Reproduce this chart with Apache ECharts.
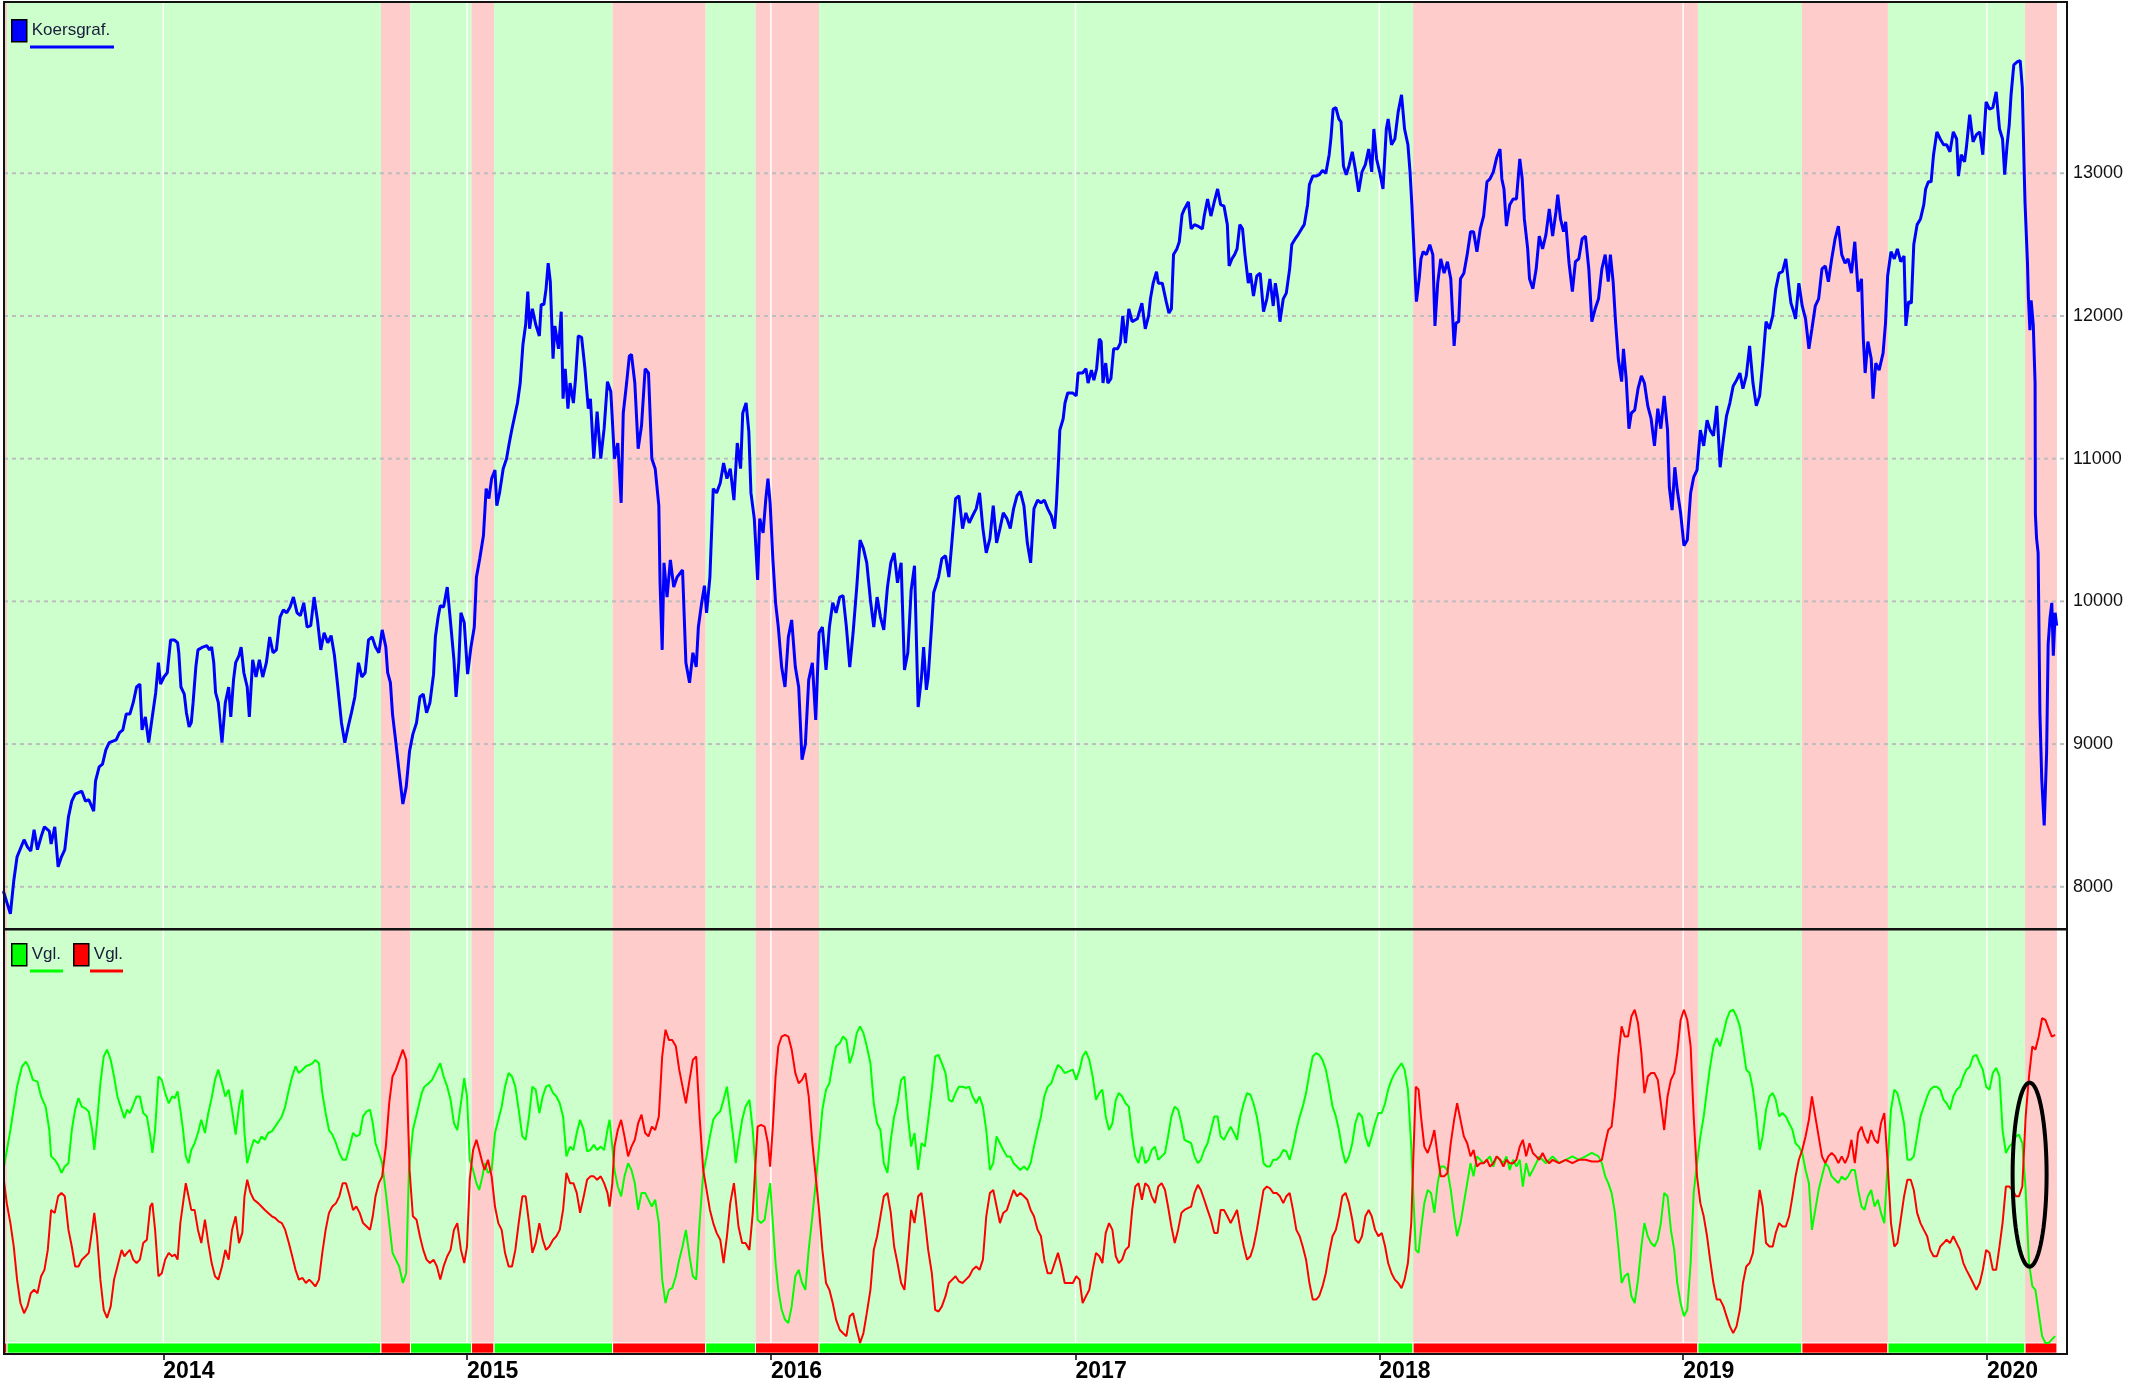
<!DOCTYPE html>
<html lang="nl">
<head>
<meta charset="UTF-8">
<title>Koersgraf.</title>
<style>
  html, body { margin: 0; padding: 0; background: #fff; }
  #container { width: 2134px; height: 1399px; }
</style>
<script src="https://cdn.jsdelivr.net/npm/echarts/dist/echarts.min.js"></script>
</head>
<body>
<div id="container"></div>
<script>
// x values are fractional years
var koers = [
[2013.475,7970],[2013.498,7810],[2013.509,8040],[2013.520,8210],[2013.543,8330],[2013.554,8280],[2013.565,8250],[2013.576,8400],[2013.587,8260],[2013.599,8350],[2013.610,8420],[2013.626,8390],[2013.632,8300],[2013.644,8420],[2013.655,8140],[2013.666,8210],[2013.677,8260],[2013.689,8490],[2013.700,8600],[2013.711,8650],[2013.733,8670],[2013.745,8600],[2013.756,8610],[2013.772,8530],[2013.778,8740],[2013.790,8840],[2013.801,8860],[2013.812,8960],[2013.823,9010],[2013.846,9030],[2013.857,9080],[2013.868,9100],[2013.879,9210],[2013.891,9210],[2013.902,9290],[2013.913,9400],[2013.924,9420],[2013.931,9100],[2013.942,9190],[2013.953,9010],[2013.962,9150],[2013.976,9360],[2013.985,9570],[2013.992,9420],[2014.003,9470],[2014.014,9500],[2014.025,9730],[2014.037,9730],[2014.048,9710],[2014.052,9640],[2014.059,9400],[2014.070,9350],[2014.077,9220],[2014.086,9120],[2014.093,9150],[2014.099,9290],[2014.108,9540],[2014.115,9660],[2014.131,9680],[2014.144,9690],[2014.153,9660],[2014.160,9680],[2014.167,9570],[2014.173,9360],[2014.182,9290],[2014.194,9010],[2014.205,9290],[2014.216,9400],[2014.223,9190],[2014.232,9450],[2014.239,9570],[2014.250,9620],[2014.257,9680],[2014.266,9500],[2014.277,9400],[2014.284,9190],[2014.295,9590],[2014.306,9470],[2014.317,9590],[2014.328,9470],[2014.340,9570],[2014.351,9750],[2014.362,9640],[2014.373,9660],[2014.385,9890],[2014.396,9940],[2014.407,9920],[2014.418,9960],[2014.429,10030],[2014.441,9920],[2014.452,9900],[2014.463,9990],[2014.474,9820],[2014.486,9830],[2014.497,10030],[2014.508,9870],[2014.519,9660],[2014.530,9780],[2014.542,9710],[2014.553,9760],[2014.564,9620],[2014.575,9400],[2014.587,9150],[2014.598,9010],[2014.609,9120],[2014.620,9220],[2014.631,9330],[2014.643,9570],[2014.654,9470],[2014.665,9500],[2014.676,9730],[2014.688,9750],[2014.699,9680],[2014.710,9640],[2014.721,9800],[2014.733,9680],[2014.739,9500],[2014.748,9430],[2014.755,9210],[2014.766,9010],[2014.777,8800],[2014.789,8580],[2014.800,8700],[2014.811,8950],[2014.822,9070],[2014.834,9150],[2014.845,9330],[2014.856,9350],[2014.867,9220],[2014.878,9290],[2014.890,9490],[2014.896,9750],[2014.905,9890],[2014.912,9970],[2014.923,9960],[2014.935,10100],[2014.946,9850],[2014.957,9590],[2014.964,9330],[2014.973,9570],[2014.980,9920],[2014.991,9850],[2015.002,9490],[2015.013,9680],[2015.024,9820],[2015.031,10170],[2015.042,10300],[2015.054,10460],[2015.063,10790],[2015.072,10720],[2015.081,10860],[2015.092,10920],[2015.098,10670],[2015.107,10760],[2015.119,10930],[2015.130,11000],[2015.139,11110],[2015.148,11210],[2015.159,11320],[2015.166,11390],[2015.175,11530],[2015.184,11800],[2015.193,11940],[2015.200,12170],[2015.206,11910],[2015.215,12050],[2015.226,11940],[2015.238,11860],[2015.244,12080],[2015.253,12080],[2015.260,12190],[2015.267,12370],[2015.274,12240],[2015.283,11700],[2015.289,11930],[2015.301,11770],[2015.310,12030],[2015.316,11420],[2015.323,11630],[2015.332,11350],[2015.339,11530],[2015.350,11390],[2015.357,11560],[2015.366,11860],[2015.377,11850],[2015.388,11630],[2015.399,11350],[2015.406,11420],[2015.417,11000],[2015.428,11330],[2015.440,11000],[2015.451,11210],[2015.462,11540],[2015.473,11470],[2015.485,11000],[2015.496,11110],[2015.507,10690],[2015.514,11320],[2015.525,11530],[2015.534,11720],[2015.541,11730],[2015.552,11530],[2015.563,11070],[2015.574,11230],[2015.586,11630],[2015.597,11600],[2015.608,11000],[2015.619,10930],[2015.631,10670],[2015.635,10130],[2015.642,9660],[2015.648,10270],[2015.658,10030],[2015.669,10290],[2015.680,10100],[2015.691,10170],[2015.709,10220],[2015.720,9570],[2015.732,9430],[2015.743,9640],[2015.754,9540],[2015.761,9820],[2015.772,9990],[2015.781,10110],[2015.788,9920],[2015.799,10170],[2015.810,10790],[2015.821,10760],[2015.833,10830],[2015.844,10970],[2015.855,10860],[2015.866,10930],[2015.878,10710],[2015.889,11110],[2015.900,10930],[2015.907,11320],[2015.918,11390],[2015.927,11190],[2015.934,10760],[2015.945,10580],[2015.956,10150],[2015.963,10580],[2015.974,10480],[2015.983,10720],[2015.990,10860],[2015.997,10690],[2016.006,10300],[2016.015,9990],[2016.024,9820],[2016.035,9540],[2016.046,9400],[2016.057,9750],[2016.068,9870],[2016.080,9540],[2016.091,9400],[2016.102,8890],[2016.113,9000],[2016.124,9450],[2016.136,9570],[2016.147,9170],[2016.158,9780],[2016.169,9820],[2016.181,9520],[2016.192,9820],[2016.203,9990],[2016.214,9920],[2016.226,10030],[2016.237,10040],[2016.248,9820],[2016.259,9540],[2016.270,9780],[2016.282,10100],[2016.293,10430],[2016.304,10370],[2016.315,10270],[2016.327,10010],[2016.338,9820],[2016.349,10030],[2016.360,9890],[2016.371,9800],[2016.383,10100],[2016.394,10270],[2016.405,10340],[2016.416,10130],[2016.428,10270],[2016.439,9520],[2016.450,9640],[2016.461,10080],[2016.472,10250],[2016.484,9260],[2016.495,9470],[2016.502,9680],[2016.511,9380],[2016.517,9470],[2016.529,9850],[2016.535,10060],[2016.551,10170],[2016.562,10300],[2016.574,10320],[2016.585,10170],[2016.596,10440],[2016.607,10720],[2016.618,10740],[2016.630,10510],[2016.641,10620],[2016.652,10550],[2016.663,10600],[2016.675,10650],[2016.686,10760],[2016.697,10510],[2016.708,10340],[2016.720,10440],[2016.731,10670],[2016.742,10410],[2016.753,10510],[2016.764,10620],[2016.776,10580],[2016.787,10510],[2016.798,10650],[2016.809,10740],[2016.820,10770],[2016.832,10670],[2016.843,10410],[2016.854,10270],[2016.865,10650],[2016.877,10710],[2016.888,10690],[2016.899,10710],[2016.910,10650],[2016.922,10600],[2016.933,10510],
[2016.939,10690],[2016.946,11000],[2016.950,11200],[2016.961,11280],[2016.967,11390],[2016.976,11460],[2016.993,11460],[2017.004,11440],[2017.010,11600],[2017.025,11600],[2017.036,11630],[2017.043,11530],[2017.054,11620],[2017.062,11550],[2017.071,11630],[2017.080,11840],[2017.086,11820],[2017.092,11530],[2017.101,11670],[2017.108,11530],[2017.118,11560],[2017.127,11770],[2017.140,11770],[2017.149,11810],[2017.157,12000],[2017.166,11810],[2017.177,12050],[2017.188,11960],[2017.205,11980],[2017.220,12090],[2017.231,11910],[2017.242,12000],[2017.248,12120],[2017.257,12230],[2017.268,12310],[2017.274,12230],[2017.287,12230],[2017.300,12100],[2017.309,12020],[2017.317,12050],[2017.324,12430],[2017.335,12470],[2017.343,12520],[2017.352,12710],[2017.360,12750],[2017.373,12800],[2017.382,12610],[2017.393,12640],[2017.404,12630],[2017.419,12610],[2017.425,12700],[2017.436,12820],[2017.447,12700],[2017.458,12800],[2017.469,12890],[2017.479,12780],[2017.490,12770],[2017.501,12640],[2017.507,12350],[2017.516,12400],[2017.525,12430],[2017.533,12470],[2017.542,12640],[2017.551,12610],[2017.559,12430],[2017.570,12230],[2017.577,12300],[2017.587,12140],[2017.598,12280],[2017.609,12300],[2017.620,12030],[2017.631,12120],[2017.641,12260],[2017.652,12070],[2017.659,12230],[2017.667,12120],[2017.674,11960],[2017.685,12120],[2017.695,12160],[2017.706,12330],[2017.713,12500],[2017.724,12540],[2017.734,12570],[2017.745,12610],[2017.754,12640],[2017.765,12780],[2017.771,12920],[2017.782,12980],[2017.793,12980],[2017.804,12990],[2017.814,13020],[2017.825,13000],[2017.836,13130],[2017.842,13250],[2017.849,13450],[2017.858,13460],[2017.868,13380],[2017.875,13360],[2017.883,13050],[2017.892,12990],[2017.901,13050],[2017.912,13150],[2017.922,13030],[2017.933,12870],[2017.944,13010],[2017.955,13060],[2017.966,13170],[2017.976,13010],[2017.983,13310],[2017.992,13100],[2018.002,13010],[2018.013,12890],[2018.024,13310],[2018.030,13380],[2018.041,13200],[2018.052,13240],[2018.063,13430],[2018.074,13550],[2018.084,13310],[2018.095,13200],[2018.102,13010],[2018.108,12780],[2018.117,12370],[2018.123,12100],[2018.132,12260],[2018.138,12400],[2018.145,12450],[2018.156,12430],[2018.167,12500],[2018.177,12430],[2018.184,11930],[2018.193,12230],[2018.203,12400],[2018.214,12300],[2018.225,12380],[2018.236,12260],[2018.247,11790],[2018.253,11950],[2018.262,11960],[2018.268,12260],[2018.279,12300],[2018.290,12430],[2018.301,12590],[2018.311,12590],[2018.322,12450],[2018.333,12610],[2018.344,12700],[2018.355,12940],[2018.365,12960],[2018.376,13010],[2018.387,13110],[2018.398,13170],[2018.404,12960],[2018.411,12890],[2018.419,12630],[2018.430,12780],[2018.441,12820],[2018.452,12820],[2018.463,13100],[2018.471,12960],[2018.478,12680],[2018.489,12470],[2018.495,12260],[2018.506,12190],[2018.517,12330],[2018.527,12560],[2018.538,12470],[2018.549,12570],[2018.560,12750],[2018.571,12560],[2018.582,12730],[2018.588,12850],[2018.597,12680],[2018.607,12590],[2018.614,12660],[2018.625,12370],[2018.636,12170],[2018.646,12380],[2018.657,12400],[2018.668,12540],[2018.679,12560],[2018.690,12330],[2018.700,11960],[2018.711,12050],[2018.722,12120],[2018.733,12330],[2018.744,12430],[2018.754,12240],[2018.761,12430],[2018.770,12240],[2018.778,11960],[2018.787,11700],[2018.798,11540],[2018.804,11770],[2018.813,11560],[2018.822,11210],[2018.830,11320],[2018.841,11340],[2018.852,11490],[2018.863,11580],[2018.873,11530],[2018.884,11370],[2018.895,11280],[2018.906,11090],[2018.917,11350],[2018.927,11210],[2018.938,11440],[2018.949,11200],[2018.955,10800],[2018.964,10640],[2018.973,10940],[2018.981,10780],[2018.992,10620],[2019.003,10390],[2019.014,10430],[2019.025,10760],[2019.035,10870],[2019.046,10920],[2019.057,11200],[2019.068,11090],[2019.079,11270],[2019.089,11200],[2019.100,11160],[2019.111,11370],[2019.122,10940],[2019.133,11140],[2019.143,11300],[2019.154,11390],[2019.165,11510],[2019.176,11550],[2019.187,11600],[2019.197,11490],[2019.208,11580],[2019.219,11790],[2019.230,11530],[2019.241,11370],[2019.252,11440],[2019.262,11670],[2019.273,11960],[2019.284,11910],[2019.295,12000],[2019.305,12190],[2019.316,12300],[2019.327,12310],[2019.338,12400],[2019.349,12190],[2019.355,12090],[2019.364,12030],[2019.370,11980],[2019.381,12230],[2019.392,12070],[2019.403,11980],[2019.414,11770],[2019.424,11910],[2019.435,12070],[2019.446,12120],[2019.457,12330],[2019.468,12350],[2019.478,12240],[2019.489,12400],[2019.500,12540],[2019.511,12630],[2019.522,12430],[2019.533,12370],[2019.543,12400],[2019.554,12300],[2019.565,12520],[2019.576,12170],[2019.587,12260],[2019.593,11840],[2019.599,11600],[2019.608,11820],[2019.619,11700],[2019.625,11420],[2019.634,11670],[2019.645,11620],[2019.658,11740],[2019.666,11950],[2019.673,12280],[2019.684,12450],[2019.695,12400],[2019.705,12470],[2019.716,12380],[2019.727,12420],[2019.733,11930],[2019.742,12100],[2019.751,12090],[2019.759,12500],[2019.770,12640],[2019.781,12680],[2019.792,12780],[2019.798,12890],[2019.807,12940],[2019.816,12940],[2019.824,13130],[2019.835,13290],[2019.846,13240],[2019.857,13200],[2019.867,13200],[2019.878,13150],[2019.889,13290],[2019.900,13240],[2019.906,12980],[2019.915,13130],[2019.926,13080],[2019.932,13180],[2019.943,13410],[2019.954,13220],[2019.965,13270],[2019.976,13290],[2019.986,13130],[2019.997,13500],[2020.008,13450],[2020.019,13460],[2020.030,13570],[2020.041,13310],[2020.051,13240],[2020.058,12990],[2020.066,13200],[2020.073,13340],[2020.079,13550],[2020.088,13760],[2020.099,13780],[2020.109,13790],[2020.116,13600],
[2020.122,13030],[2020.125,12790],[2020.133,12370],[2020.136,12130],[2020.141,11900],[2020.145,12110],[2020.152,11940],[2020.158,11530],[2020.159,10610],[2020.163,10440],[2020.168,10340],[2020.174,9210],[2020.180,8750],[2020.188,8430],[2020.196,8940],[2020.201,9700],[2020.207,9880],[2020.213,9990],[2020.218,9620],[2020.224,9920],[2020.229,9830]
];

var vglGroen = [
[2013.475,43.3],[2013.498,52.7],[2013.520,62.9],[2013.536,67.6],[2013.549,68.8],[2013.558,67.6],[2013.572,64.5],[2013.587,64.1],[2013.599,60.6],[2013.614,58.2],[2013.626,52.7],[2013.632,46.5],[2013.644,45.7],[2013.655,44.5],[2013.666,42.6],[2013.677,44.1],[2013.689,44.9],[2013.700,52.7],[2013.711,57.5],[2013.722,60.2],[2013.733,58.2],[2013.745,57.8],[2013.756,57.0],[2013.767,52.7],[2013.774,48.0],[2013.783,54.3],[2013.794,63.7],[2013.805,70.0],[2013.816,71.6],[2013.828,69.2],[2013.839,65.3],[2013.850,60.6],[2013.864,57.5],[2013.873,55.5],[2013.882,57.5],[2013.891,56.7],[2013.902,58.6],[2013.913,60.6],[2013.924,60.6],[2013.935,56.7],[2013.947,55.9],[2013.958,51.2],[2013.965,47.3],[2013.974,52.7],[2013.985,65.3],[2013.996,64.5],[2014.007,61.4],[2014.019,59.0],[2014.030,60.6],[2014.039,60.2],[2014.048,61.8],[2014.057,57.5],[2014.066,52.7],[2014.075,46.5],[2014.084,44.9],[2014.093,48.0],[2014.104,49.6],[2014.115,52.0],[2014.126,55.1],[2014.138,52.0],[2014.149,56.7],[2014.160,60.2],[2014.171,64.5],[2014.182,66.9],[2014.194,63.7],[2014.205,60.6],[2014.216,62.2],[2014.227,57.5],[2014.239,51.6],[2014.250,58.2],[2014.261,62.2],[2014.268,52.0],[2014.277,44.9],[2014.288,48.0],[2014.299,50.4],[2014.313,49.6],[2014.324,51.2],[2014.335,50.4],[2014.346,52.0],[2014.358,52.4],[2014.369,53.5],[2014.380,54.7],[2014.391,55.9],[2014.402,58.2],[2014.414,62.2],[2014.425,65.3],[2014.436,67.7],[2014.447,66.1],[2014.459,66.9],[2014.470,67.7],[2014.481,68.0],[2014.492,68.4],[2014.501,69.2],[2014.513,68.4],[2014.524,61.4],[2014.535,56.7],[2014.546,52.7],[2014.557,51.6],[2014.569,49.6],[2014.580,47.3],[2014.591,45.7],[2014.602,45.7],[2014.614,48.8],[2014.625,52.0],[2014.636,51.2],[2014.647,51.6],[2014.658,55.9],[2014.670,57.1],[2014.681,57.5],[2014.690,54.3],[2014.699,49.6],[2014.710,47.3],[2014.721,44.9],[2014.733,37.9],[2014.744,30.8],[2014.755,23.8],[2014.766,22.2],[2014.777,20.6],[2014.789,16.7],[2014.800,19.0],[2014.809,43.3],[2014.822,52.7],[2014.838,57.5],[2014.851,61.4],[2014.860,62.9],[2014.874,63.7],[2014.885,64.5],[2014.896,66.1],[2014.912,68.4],[2014.923,65.3],[2014.935,62.9],[2014.946,59.8],[2014.957,54.3],[2014.968,52.7],[2014.980,59.0],[2014.991,64.9],[2015.000,60.6],[2015.009,45.7],[2015.020,43.3],[2015.031,40.2],[2015.040,38.6],[2015.051,41.8],[2015.058,44.9],[2015.069,42.6],[2015.081,43.3],[2015.092,52.0],[2015.103,55.1],[2015.114,58.2],[2015.125,62.9],[2015.137,66.1],[2015.148,65.3],[2015.159,62.9],[2015.170,57.5],[2015.182,51.2],[2015.193,50.4],[2015.204,55.9],[2015.215,62.9],[2015.226,62.2],[2015.238,56.7],[2015.249,60.6],[2015.260,62.9],[2015.271,63.3],[2015.283,61.4],[2015.294,60.6],[2015.305,59.0],[2015.316,55.9],[2015.327,46.5],[2015.339,48.8],[2015.350,48.0],[2015.361,52.0],[2015.372,55.1],[2015.384,52.7],[2015.395,47.7],[2015.406,48.0],[2015.417,49.2],[2015.428,48.0],[2015.440,48.8],[2015.451,48.0],[2015.462,52.7],[2015.469,55.1],[2015.478,48.8],[2015.485,43.3],[2015.496,39.4],[2015.507,37.1],[2015.518,41.8],[2015.530,44.9],[2015.541,43.3],[2015.552,40.2],[2015.563,33.9],[2015.574,37.9],[2015.586,37.9],[2015.597,36.3],[2015.608,34.7],[2015.619,36.3],[2015.631,30.8],[2015.642,17.5],[2015.653,12.0],[2015.664,15.1],[2015.675,15.5],[2015.687,18.3],[2015.698,22.2],[2015.709,25.3],[2015.720,29.2],[2015.732,23.0],[2015.743,18.3],[2015.754,17.5],[2015.765,30.8],[2015.777,42.6],[2015.788,46.5],[2015.799,51.2],[2015.810,55.1],[2015.821,56.3],[2015.833,57.1],[2015.844,59.8],[2015.855,62.9],[2015.866,56.7],[2015.878,49.6],[2015.884,44.9],[2015.893,49.6],[2015.905,55.1],[2015.916,58.2],[2015.929,59.8],[2015.940,52.7],[2015.949,43.3],[2015.956,31.6],[2015.967,30.8],[2015.979,31.6],[2015.990,37.1],[2015.997,40.2],[2016.006,30.8],[2016.015,21.4],[2016.024,15.1],[2016.035,10.4],[2016.046,8.1],[2016.057,7.3],[2016.068,11.2],[2016.080,18.3],[2016.091,19.8],[2016.102,16.7],[2016.113,15.1],[2016.124,24.5],[2016.136,32.4],[2016.147,40.2],[2016.158,48.8],[2016.169,57.5],[2016.181,62.2],[2016.192,63.7],[2016.203,68.4],[2016.214,72.4],[2016.226,73.1],[2016.237,74.7],[2016.248,73.9],[2016.259,68.4],[2016.270,70.8],[2016.282,75.5],[2016.293,77.1],[2016.304,75.5],[2016.315,72.4],[2016.327,68.4],[2016.338,59.0],[2016.349,54.3],[2016.360,52.7],[2016.371,44.9],[2016.383,42.6],[2016.394,50.4],[2016.405,55.9],[2016.416,59.0],[2016.428,64.5],[2016.439,65.3],[2016.450,55.9],[2016.461,48.8],[2016.472,52.0],[2016.484,43.3],[2016.495,49.6],[2016.506,48.8],[2016.517,55.1],[2016.529,62.2],[2016.540,70.0],[2016.551,70.4],[2016.562,68.4],[2016.574,66.1],[2016.585,59.8],[2016.596,59.4],[2016.607,61.4],[2016.618,62.9],[2016.630,62.9],[2016.641,62.6],[2016.652,62.9],[2016.663,60.6],[2016.675,59.0],[2016.686,60.6],[2016.697,58.2],[2016.708,52.7],[2016.720,43.3],[2016.731,44.9],[2016.742,51.2],[2016.753,49.6],[2016.764,48.0],[2016.776,46.5],[2016.787,46.5],[2016.798,44.9],[2016.809,44.1],[2016.820,43.3],[2016.832,44.1],[2016.843,43.3],[2016.854,44.9],[2016.865,48.8],[2016.877,52.7],[2016.888,55.9],[2016.899,60.6],[2016.910,62.9],[2016.922,63.7],[2016.933,66.1],[2016.944,68.0],[2016.955,67.3],[2016.966,66.1],
[2016.993,66.9],[2017.004,64.5],[2017.015,66.9],[2017.025,70.0],[2017.036,71.2],[2017.047,69.2],[2017.058,65.3],[2017.069,59.8],[2017.080,61.4],[2017.090,62.2],[2017.101,55.9],[2017.112,52.7],[2017.123,54.3],[2017.134,59.8],[2017.144,61.4],[2017.155,60.6],[2017.166,59.0],[2017.177,58.2],[2017.188,51.2],[2017.198,46.5],[2017.209,44.9],[2017.220,48.8],[2017.231,44.9],[2017.242,45.7],[2017.252,48.0],[2017.263,48.8],[2017.274,45.7],[2017.285,46.5],[2017.296,47.3],[2017.306,51.2],[2017.317,55.9],[2017.328,58.2],[2017.339,57.5],[2017.350,54.3],[2017.360,50.4],[2017.371,50.0],[2017.382,49.6],[2017.393,46.5],[2017.404,44.9],[2017.414,45.7],[2017.425,48.0],[2017.436,49.6],[2017.447,52.7],[2017.458,55.9],[2017.469,55.9],[2017.479,51.2],[2017.490,50.4],[2017.501,52.0],[2017.512,53.5],[2017.523,52.0],[2017.533,50.4],[2017.544,55.9],[2017.555,59.0],[2017.566,61.4],[2017.577,61.0],[2017.587,59.0],[2017.598,55.9],[2017.609,51.2],[2017.620,44.9],[2017.631,44.1],[2017.641,44.1],[2017.652,45.7],[2017.663,45.7],[2017.674,46.5],[2017.685,48.0],[2017.695,47.7],[2017.706,45.7],[2017.717,48.8],[2017.728,52.7],[2017.739,55.9],[2017.749,58.2],[2017.760,61.4],[2017.771,66.1],[2017.782,70.0],[2017.793,70.8],[2017.803,70.4],[2017.814,69.2],[2017.825,66.9],[2017.836,62.9],[2017.847,58.2],[2017.858,55.9],[2017.868,52.7],[2017.879,48.0],[2017.890,44.9],[2017.901,46.5],[2017.912,49.6],[2017.922,54.3],[2017.933,56.7],[2017.944,55.9],[2017.955,51.2],[2017.966,48.8],[2017.976,51.2],[2017.987,54.3],[2017.998,56.7],[2018.009,56.7],[2018.020,59.0],[2018.030,62.2],[2018.041,64.5],[2018.052,66.1],[2018.063,67.3],[2018.074,68.4],[2018.084,66.9],[2018.095,62.2],[2018.106,48.8],[2018.113,37.1],[2018.121,24.5],[2018.130,23.8],[2018.138,29.2],[2018.149,35.5],[2018.160,38.6],[2018.171,37.9],[2018.182,33.2],[2018.193,40.2],[2018.203,44.1],[2018.214,44.1],[2018.225,43.3],[2018.236,38.6],[2018.247,32.4],[2018.257,27.7],[2018.268,30.8],[2018.279,35.5],[2018.290,40.2],[2018.301,44.9],[2018.311,41.8],[2018.322,46.5],[2018.333,45.7],[2018.344,44.9],[2018.355,45.7],[2018.365,46.5],[2018.376,44.1],[2018.387,46.5],[2018.398,45.7],[2018.409,44.9],[2018.419,46.5],[2018.430,43.3],[2018.441,45.7],[2018.452,44.1],[2018.463,45.7],[2018.473,39.4],[2018.484,44.9],[2018.495,41.8],[2018.506,43.3],[2018.517,44.9],[2018.527,46.5],[2018.538,45.7],[2018.549,44.9],[2018.560,45.7],[2018.571,46.5],[2018.582,45.7],[2018.592,44.9],[2018.614,45.7],[2018.636,46.5],[2018.657,45.7],[2018.679,46.5],[2018.700,47.3],[2018.722,46.5],[2018.733,44.9],[2018.744,41.8],[2018.754,40.2],[2018.765,37.9],[2018.776,33.2],[2018.787,25.3],[2018.798,16.7],[2018.808,18.3],[2018.819,19.0],[2018.830,13.6],[2018.841,12.0],[2018.852,17.5],[2018.863,25.3],[2018.873,30.8],[2018.884,27.7],[2018.895,26.1],[2018.906,25.3],[2018.917,26.9],[2018.927,30.8],[2018.938,37.9],[2018.949,37.1],[2018.960,29.2],[2018.971,24.5],[2018.981,16.7],[2018.992,12.0],[2019.003,8.9],[2019.014,10.4],[2019.025,21.4],[2019.035,37.9],[2019.046,44.9],[2019.057,51.2],[2019.068,55.9],[2019.079,62.2],[2019.089,67.6],[2019.100,72.4],[2019.111,74.3],[2019.122,72.4],[2019.133,75.5],[2019.143,78.6],[2019.154,80.6],[2019.165,81.0],[2019.176,79.4],[2019.187,77.1],[2019.197,72.4],[2019.208,66.9],[2019.219,66.1],[2019.230,62.2],[2019.241,55.9],[2019.252,48.0],[2019.262,51.2],[2019.273,57.5],[2019.284,60.6],[2019.295,61.4],[2019.305,59.8],[2019.316,55.9],[2019.327,56.7],[2019.338,55.9],[2019.349,54.3],[2019.360,52.7],[2019.370,49.6],[2019.381,48.8],[2019.392,47.3],[2019.403,43.3],[2019.414,40.2],[2019.424,29.2],[2019.435,33.9],[2019.446,38.6],[2019.457,41.8],[2019.468,44.9],[2019.478,44.1],[2019.489,41.8],[2019.500,41.0],[2019.511,40.2],[2019.522,41.8],[2019.533,41.0],[2019.543,41.8],[2019.554,43.3],[2019.565,43.3],[2019.576,38.6],[2019.587,34.7],[2019.597,33.9],[2019.608,37.1],[2019.619,38.6],[2019.630,34.7],[2019.641,36.3],[2019.651,33.2],[2019.662,30.8],[2019.673,44.9],[2019.684,57.5],[2019.695,62.2],[2019.705,61.4],[2019.716,58.2],[2019.727,54.3],[2019.738,45.7],[2019.749,45.7],[2019.759,46.5],[2019.770,51.2],[2019.781,55.9],[2019.792,58.2],[2019.803,60.6],[2019.813,62.2],[2019.824,62.9],[2019.835,62.9],[2019.846,62.2],[2019.857,59.8],[2019.867,59.0],[2019.878,57.5],[2019.889,60.6],[2019.900,62.2],[2019.911,62.9],[2019.922,65.3],[2019.932,66.9],[2019.943,67.6],[2019.954,70.0],[2019.965,70.4],[2019.976,68.4],[2019.986,66.9],[2019.997,62.9],[2020.008,62.2],[2020.019,66.1],[2020.030,67.3],[2020.041,65.3],[2020.051,52.7],[2020.062,47.3],[2020.073,48.8],[2020.084,49.6],[2020.095,51.2],[2020.105,51.6],[2020.116,49.6],[2020.127,38.6],[2020.138,21.4],[2020.149,15.9],[2020.159,15.1],[2020.170,9.6],[2020.181,4.2],[2020.192,2.6],[2020.203,2.6],[2020.213,3.4],[2020.224,4.2]
];

var vglRood = [
[2013.475,41.8],[2013.486,35.5],[2013.498,30.8],[2013.509,25.3],[2013.520,17.5],[2013.531,12.0],[2013.543,9.6],[2013.554,11.2],[2013.565,14.3],[2013.576,15.1],[2013.587,14.3],[2013.599,18.3],[2013.610,19.8],[2013.621,24.5],[2013.632,33.9],[2013.644,33.2],[2013.655,37.1],[2013.666,37.9],[2013.677,37.1],[2013.689,29.2],[2013.700,25.3],[2013.711,20.6],[2013.722,20.6],[2013.733,22.2],[2013.745,23.0],[2013.756,23.8],[2013.767,29.2],[2013.774,33.2],[2013.783,27.7],[2013.794,17.5],[2013.805,10.4],[2013.816,8.5],[2013.828,11.2],[2013.839,17.5],[2013.850,20.6],[2013.864,24.5],[2013.873,23.0],[2013.882,23.8],[2013.891,24.5],[2013.902,22.2],[2013.913,21.4],[2013.924,22.2],[2013.935,26.1],[2013.947,26.9],[2013.958,34.7],[2013.965,35.5],[2013.974,29.2],[2013.985,18.3],[2013.996,19.0],[2014.007,22.2],[2014.019,23.8],[2014.030,23.0],[2014.039,23.4],[2014.048,22.2],[2014.057,30.8],[2014.066,35.5],[2014.075,40.2],[2014.084,37.1],[2014.093,33.9],[2014.104,33.9],[2014.115,29.2],[2014.126,26.1],[2014.138,31.6],[2014.149,26.1],[2014.160,21.4],[2014.171,18.3],[2014.182,17.5],[2014.194,20.6],[2014.205,24.5],[2014.216,22.2],[2014.227,29.2],[2014.239,32.4],[2014.250,26.1],[2014.261,28.5],[2014.268,37.1],[2014.277,41.0],[2014.288,37.9],[2014.299,36.3],[2014.313,35.5],[2014.324,34.7],[2014.335,33.9],[2014.346,33.2],[2014.358,32.4],[2014.369,32.0],[2014.380,31.2],[2014.391,30.8],[2014.402,29.2],[2014.414,26.1],[2014.425,23.0],[2014.436,19.8],[2014.447,17.5],[2014.459,17.9],[2014.470,16.7],[2014.481,17.5],[2014.492,16.7],[2014.501,15.9],[2014.513,17.5],[2014.524,23.8],[2014.535,29.2],[2014.546,33.2],[2014.557,34.7],[2014.569,35.5],[2014.580,37.1],[2014.591,40.2],[2014.602,40.2],[2014.614,37.1],[2014.625,33.9],[2014.636,34.7],[2014.647,33.2],[2014.658,30.8],[2014.670,30.0],[2014.681,29.2],[2014.690,32.4],[2014.699,37.1],[2014.710,40.2],[2014.721,41.8],[2014.733,48.8],[2014.744,59.0],[2014.755,65.3],[2014.766,66.9],[2014.777,69.2],[2014.789,71.6],[2014.800,69.2],[2014.811,43.3],[2014.822,32.4],[2014.834,31.6],[2014.845,27.7],[2014.856,24.5],[2014.867,22.2],[2014.878,21.4],[2014.890,22.2],[2014.901,20.6],[2014.912,17.5],[2014.923,20.6],[2014.935,23.0],[2014.946,24.5],[2014.957,29.2],[2014.968,30.8],[2014.980,24.5],[2014.991,21.4],[2015.000,25.3],[2015.009,41.0],[2015.020,48.0],[2015.031,50.4],[2015.040,48.0],[2015.051,44.9],[2015.058,43.3],[2015.069,45.7],[2015.081,41.8],[2015.092,34.7],[2015.103,30.8],[2015.114,29.2],[2015.125,23.8],[2015.137,20.6],[2015.148,20.6],[2015.159,24.5],[2015.170,30.8],[2015.182,37.1],[2015.193,37.1],[2015.204,30.8],[2015.215,23.8],[2015.226,26.1],[2015.238,30.8],[2015.249,26.9],[2015.260,24.5],[2015.271,25.3],[2015.283,26.9],[2015.294,27.7],[2015.305,29.2],[2015.316,33.9],[2015.327,42.6],[2015.339,40.2],[2015.350,40.2],[2015.361,37.9],[2015.372,33.2],[2015.384,37.1],[2015.395,41.0],[2015.406,41.8],[2015.417,41.8],[2015.428,41.0],[2015.440,41.8],[2015.451,40.2],[2015.462,37.9],[2015.469,34.7],[2015.478,40.2],[2015.485,48.8],[2015.496,52.7],[2015.507,55.1],[2015.518,51.2],[2015.530,46.5],[2015.541,48.8],[2015.552,50.4],[2015.563,54.3],[2015.574,56.3],[2015.586,52.0],[2015.597,51.2],[2015.608,53.5],[2015.619,52.7],[2015.631,55.9],[2015.642,70.0],[2015.653,76.3],[2015.664,73.9],[2015.675,73.9],[2015.687,72.4],[2015.698,66.9],[2015.709,62.9],[2015.720,59.0],[2015.732,64.5],[2015.743,69.2],[2015.754,70.0],[2015.765,55.9],[2015.777,43.3],[2015.788,38.6],[2015.799,33.9],[2015.810,30.8],[2015.821,28.5],[2015.833,26.9],[2015.844,21.4],[2015.855,27.7],[2015.866,35.5],[2015.878,40.2],[2015.884,36.3],[2015.893,30.0],[2015.905,26.1],[2015.916,26.1],[2015.929,24.5],[2015.940,33.2],[2015.949,44.9],[2015.956,53.5],[2015.967,53.9],[2015.979,53.5],[2015.990,49.6],[2015.997,44.1],[2016.006,53.5],[2016.015,65.3],[2016.024,72.4],[2016.035,74.7],[2016.046,75.1],[2016.057,74.7],[2016.068,71.6],[2016.080,66.1],[2016.091,63.7],[2016.102,64.5],[2016.113,66.1],[2016.124,60.6],[2016.136,49.6],[2016.147,41.8],[2016.158,33.9],[2016.169,24.5],[2016.181,16.7],[2016.192,15.1],[2016.203,12.0],[2016.214,8.1],[2016.226,5.7],[2016.237,4.9],[2016.248,4.2],[2016.259,8.9],[2016.270,9.6],[2016.282,5.7],[2016.293,2.6],[2016.304,4.9],[2016.315,9.6],[2016.327,15.1],[2016.338,24.5],[2016.349,27.7],[2016.360,32.4],[2016.371,37.1],[2016.383,37.9],[2016.394,33.2],[2016.405,25.3],[2016.416,21.4],[2016.428,16.7],[2016.439,15.1],[2016.450,24.5],[2016.461,33.9],[2016.472,30.8],[2016.484,37.1],[2016.495,37.9],[2016.506,31.6],[2016.517,24.5],[2016.529,19.0],[2016.540,10.4],[2016.551,10.0],[2016.562,11.2],[2016.574,13.6],[2016.585,16.7],[2016.596,17.5],[2016.607,18.3],[2016.618,17.1],[2016.630,16.7],[2016.641,17.5],[2016.652,18.3],[2016.663,19.8],[2016.675,20.6],[2016.686,19.8],[2016.697,22.2],[2016.708,32.4],[2016.720,37.9],[2016.731,38.6],[2016.742,34.7],[2016.753,30.8],[2016.764,33.2],[2016.776,33.9],[2016.787,36.3],[2016.798,38.6],[2016.809,37.1],[2016.820,37.9],[2016.832,37.1],[2016.843,36.3],[2016.854,33.9],[2016.865,32.4],[2016.877,29.2],[2016.888,27.7],[2016.899,22.2],[2016.910,19.0],[2016.922,19.0],[2016.933,21.4],[2016.944,23.8],[2016.955,20.6],[2016.966,16.7],
[2016.993,16.7],[2017.004,18.3],[2017.015,17.5],[2017.025,12.0],[2017.036,13.6],[2017.047,15.1],[2017.058,19.8],[2017.069,23.8],[2017.080,23.0],[2017.090,21.4],[2017.101,28.5],[2017.112,30.8],[2017.123,29.2],[2017.134,23.0],[2017.144,21.4],[2017.155,22.2],[2017.166,24.5],[2017.177,25.3],[2017.188,33.9],[2017.198,39.4],[2017.209,40.2],[2017.220,36.3],[2017.231,40.2],[2017.242,39.4],[2017.252,37.1],[2017.263,35.5],[2017.274,39.4],[2017.285,40.2],[2017.296,38.6],[2017.306,34.7],[2017.317,30.0],[2017.328,26.1],[2017.339,29.2],[2017.350,33.2],[2017.360,33.9],[2017.371,34.3],[2017.382,34.7],[2017.393,37.9],[2017.404,39.8],[2017.414,38.6],[2017.425,36.3],[2017.436,33.9],[2017.447,31.6],[2017.458,28.5],[2017.469,28.5],[2017.479,33.9],[2017.490,33.9],[2017.501,32.4],[2017.512,30.8],[2017.523,32.4],[2017.533,33.9],[2017.544,29.2],[2017.555,25.3],[2017.566,22.2],[2017.577,23.0],[2017.587,25.3],[2017.598,29.2],[2017.609,33.9],[2017.620,38.6],[2017.631,39.4],[2017.641,39.0],[2017.652,37.9],[2017.663,37.9],[2017.674,37.1],[2017.685,35.5],[2017.695,37.1],[2017.706,37.9],[2017.717,33.9],[2017.728,29.2],[2017.739,27.7],[2017.749,25.3],[2017.760,22.2],[2017.771,16.7],[2017.782,12.8],[2017.793,12.8],[2017.803,13.6],[2017.814,15.9],[2017.825,19.0],[2017.836,23.8],[2017.847,27.7],[2017.858,29.2],[2017.868,32.4],[2017.879,37.1],[2017.890,37.9],[2017.901,35.5],[2017.912,31.6],[2017.922,26.9],[2017.933,26.1],[2017.944,27.7],[2017.955,32.4],[2017.966,33.9],[2017.976,32.4],[2017.987,29.2],[2017.998,27.7],[2018.009,28.5],[2018.020,25.3],[2018.030,21.4],[2018.041,19.0],[2018.052,17.5],[2018.063,16.7],[2018.074,15.5],[2018.084,17.5],[2018.095,21.4],[2018.106,30.8],[2018.113,46.5],[2018.121,62.9],[2018.130,62.2],[2018.138,55.9],[2018.149,48.8],[2018.160,47.3],[2018.171,49.6],[2018.182,52.7],[2018.193,46.5],[2018.203,41.8],[2018.214,41.8],[2018.225,42.6],[2018.236,49.6],[2018.247,55.1],[2018.257,59.0],[2018.268,55.1],[2018.279,51.2],[2018.290,49.6],[2018.301,46.5],[2018.311,48.0],[2018.322,44.1],[2018.333,44.9],[2018.344,44.9],[2018.355,45.7],[2018.365,44.1],[2018.376,44.9],[2018.387,46.5],[2018.398,45.7],[2018.409,44.1],[2018.419,45.7],[2018.430,44.9],[2018.441,44.9],[2018.452,45.7],[2018.463,48.8],[2018.473,50.4],[2018.484,46.5],[2018.495,49.6],[2018.506,47.3],[2018.517,46.5],[2018.527,45.7],[2018.538,47.3],[2018.549,45.7],[2018.560,44.9],[2018.571,45.7],[2018.592,44.9],[2018.614,45.7],[2018.636,44.9],[2018.657,45.7],[2018.679,45.7],[2018.700,45.3],[2018.722,45.3],[2018.733,45.7],[2018.744,49.6],[2018.754,52.7],[2018.765,53.5],[2018.776,60.6],[2018.787,70.0],[2018.798,77.1],[2018.808,74.7],[2018.819,74.7],[2018.830,79.4],[2018.841,81.0],[2018.852,77.8],[2018.863,70.8],[2018.873,61.4],[2018.884,65.3],[2018.895,66.1],[2018.906,66.1],[2018.917,64.5],[2018.927,59.0],[2018.938,52.7],[2018.949,60.6],[2018.960,64.5],[2018.971,66.1],[2018.981,70.8],[2018.992,78.6],[2019.003,81.0],[2019.014,78.6],[2019.025,72.4],[2019.035,55.9],[2019.046,41.8],[2019.057,35.5],[2019.068,32.4],[2019.079,27.7],[2019.089,22.2],[2019.100,16.7],[2019.111,12.8],[2019.122,12.8],[2019.133,11.2],[2019.143,8.9],[2019.154,6.5],[2019.165,4.9],[2019.176,6.5],[2019.187,10.4],[2019.197,16.7],[2019.208,20.6],[2019.219,21.4],[2019.230,23.8],[2019.241,31.6],[2019.252,38.6],[2019.262,34.7],[2019.273,26.1],[2019.284,25.3],[2019.295,25.3],[2019.305,28.5],[2019.316,30.8],[2019.327,30.0],[2019.338,30.0],[2019.349,32.4],[2019.360,37.1],[2019.370,41.8],[2019.381,45.7],[2019.392,48.0],[2019.403,51.2],[2019.414,55.1],[2019.424,60.6],[2019.435,55.9],[2019.446,51.2],[2019.457,46.5],[2019.468,44.9],[2019.478,46.5],[2019.489,47.3],[2019.500,46.5],[2019.511,44.9],[2019.522,46.5],[2019.533,44.9],[2019.543,46.5],[2019.554,50.4],[2019.565,44.9],[2019.576,52.0],[2019.587,53.5],[2019.597,51.2],[2019.608,49.6],[2019.619,52.7],[2019.630,50.4],[2019.641,49.6],[2019.651,54.3],[2019.662,56.7],[2019.673,44.9],[2019.684,30.8],[2019.695,25.3],[2019.705,26.1],[2019.716,31.6],[2019.727,37.1],[2019.738,41.0],[2019.749,41.0],[2019.759,38.6],[2019.770,33.2],[2019.781,30.8],[2019.792,29.2],[2019.803,27.7],[2019.813,24.5],[2019.824,23.0],[2019.835,23.0],[2019.846,25.3],[2019.857,26.1],[2019.867,26.9],[2019.878,26.1],[2019.889,27.7],[2019.900,26.1],[2019.911,24.5],[2019.922,21.4],[2019.932,19.8],[2019.943,18.3],[2019.954,16.7],[2019.965,15.1],[2019.976,16.7],[2019.986,19.8],[2019.997,24.5],[2020.008,23.8],[2020.019,19.8],[2020.030,19.8],[2020.041,25.3],[2020.051,30.8],[2020.062,39.4],[2020.073,39.4],[2020.084,38.6],[2020.095,37.1],[2020.105,37.1],[2020.116,39.4],[2020.127,55.9],[2020.138,65.3],[2020.149,72.4],[2020.159,71.6],[2020.170,74.7],[2020.181,79.0],[2020.192,78.6],[2020.203,76.5],[2020.213,74.7],[2020.224,75.1]
];

// trend periods: [trend, start, end]
var periods = [
  ['down', 2013.477, 2013.487], ['up', 2013.487, 2014.717], ['down', 2014.717, 2014.814],
  ['up', 2014.814, 2015.015], ['down', 2015.015, 2015.089], ['up', 2015.089, 2015.479],
  ['down', 2015.479, 2015.785], ['up', 2015.785, 2015.949], ['down', 2015.949, 2016.158],
  ['up', 2016.158, 2018.112], ['down', 2018.112, 2019.049], ['up', 2019.049, 2019.391],
  ['down', 2019.391, 2019.674], ['up', 2019.674, 2020.125], ['down', 2020.125, 2020.230]
];

var yearTicks = [2014, 2015, 2016, 2017, 2018, 2019, 2020];
var priceTicks = [8000, 9000, 10000, 11000, 12000, 13000];
var ellipseMark = [2020.140, 42.2];

var xRange = [2013.477, 2020.263];

var toTs = function (yr) { return (yr - 1970) * 365.2425 * 86400000; };
var toPoints = function (arr) { return arr.map(function (p) { return [toTs(p[0]), p[1]]; }); };

// the original screenshot has tall, narrow lettering: use a narrow face when it is installed
function hasFont(name) {
  var ctx = document.createElement('canvas').getContext('2d');
  ctx.font = '40px monospace';
  var w0 = ctx.measureText('13000 Koersgraf').width;
  ctx.font = "40px '" + name + "', monospace";
  return ctx.measureText('13000 Koersgraf').width !== w0;
}
var narrow = hasFont('Liberation Sans Narrow');
var fontFam = narrow ? "'Liberation Sans Narrow', 'Liberation Sans', sans-serif" : "'Liberation Sans', Arial, sans-serif";
var ySize = narrow ? 21 : 18;
var xSize = narrow ? 27 : 23;
var legSize = narrow ? 20 : 17;

var xMin = toTs(xRange[0]), xMax = toTs(xRange[1]);

var dom = document.getElementById('container');
var myChart = echarts.init(dom);

function bgRender(params, api) {
  var p = periods[params.dataIndex];
  var x0 = api.coord([toTs(p[1]), 0])[0];
  var x1 = api.coord([toTs(p[2]), 0])[0];
  var cs = params.coordSys;
  return { type: 'rect', shape: { x: x0, y: cs.y, width: x1 - x0, height: cs.height },
           style: { fill: p[0] === 'up' ? '#ccffcc' : '#ffcccc' } };
}
function stripRender(params, api) {
  var p = periods[params.dataIndex];
  var a = api.coord([toTs(p[1]), 2.6]);
  var b = api.coord([toTs(p[2]), 0.2]);
  return { type: 'rect', shape: { x: a[0], y: a[1], width: b[0] - a[0], height: b[1] - a[1] },
           style: { fill: p[0] === 'up' ? '#00ff00' : '#ff0000', stroke: '#ffffff', lineWidth: 1 } };
}
function yearLineRender(params, api) {
  var x = api.coord([api.value(0), 0])[0];
  var cs = params.coordSys;
  return { type: 'line', shape: { x1: x, y1: cs.y, x2: x, y2: cs.y + cs.height },
           style: { stroke: '#ffffff', lineWidth: 1.5 } };
}
function priceLineRender(params, api) {
  var y = api.coord([xMin, priceTicks[params.dataIndex]])[1];
  var cs = params.coordSys;
  return { type: 'line', shape: { x1: cs.x, y1: y, x2: cs.x + cs.width, y2: y },
           style: { stroke: '#bdbdbd', lineWidth: 2, lineDash: [4, 4] } };
}
function ellipseRender(params, api) {
  var c = api.coord([api.value(0), api.value(1)]);
  var pts = [];
  for (var i = 0; i < 72; i++) {
    var t = i / 72 * Math.PI * 2;
    pts.push([c[0] + 17 * Math.cos(t), c[1] + 92 * Math.sin(t)]);
  }
  return { type: 'polygon', shape: { points: pts }, style: { fill: 'none', stroke: '#000', lineWidth: 4 } };
}

var periodData = periods.map(function (p) { return [toTs(p[1]), toTs(p[2])]; });
var yearData = yearTicks.map(function (y) { return [new Date(y, 0, 1).getTime(), 0]; });

var option = {
  animation: false,
  backgroundColor: '#ffffff',
  grid: [
    { left: 4, top: 2, width: 2063, height: 927.6, show: true, z: 10, backgroundColor: 'transparent', borderColor: '#111', borderWidth: 2 },
    { left: 4, top: 929, width: 2063, height: 425, show: true, z: 10, backgroundColor: 'transparent', borderColor: '#111', borderWidth: 2 }
  ],
  xAxis: [
    { type: 'time', gridIndex: 0, min: xMin, max: xMax, show: false },
    { type: 'time', gridIndex: 1, min: xMin, max: xMax, splitNumber: 7,
      minInterval: 300 * 86400000, maxInterval: 400 * 86400000,
      axisLine: { show: false }, splitLine: { show: false },
      axisTick: { show: true, length: 6, lineStyle: { color: '#000', width: 1.5 } },
      axisLabel: {
        fontFamily: fontFam, fontSize: xSize, fontWeight: 'bold', color: '#000', align: 'left', margin: 6,
        formatter: function (v) {
          var d = new Date(v);
          return (d.getMonth() === 0 && d.getDate() === 1) ? String(d.getFullYear()) : '';
        }
      } }
  ],
  yAxis: [
    { type: 'value', gridIndex: 0, position: 'right', min: 7700, max: 14200, splitNumber: 6,
      axisLine: { show: false }, axisTick: { show: false }, splitLine: { show: false },
      axisLabel: { fontFamily: fontFam, fontSize: ySize, color: '#111', margin: 6,
        formatter: function (v) { return priceTicks.indexOf(v) >= 0 ? String(v) : ''; } } },
    { type: 'value', gridIndex: 1, min: 0, max: 100, show: false }
  ],
  legend: [
    { data: ['Koersgraf.'], left: 11, top: 19, padding: 0, itemWidth: 15, itemHeight: 22, icon: 'rect',
      selectedMode: false, itemStyle: { borderColor: '#000', borderWidth: 1.5 },
      textStyle: { fontFamily: fontFam, fontSize: legSize, color: '#1a1a3a' } },
    { data: ['Vgl.', 'Vgl. '], left: 11, top: 943, padding: 0, itemGap: 12, itemWidth: 15, itemHeight: 22, icon: 'rect',
      selectedMode: false, itemStyle: { borderColor: '#000', borderWidth: 1.5 },
      formatter: function (n) { return n.trim(); },
      textStyle: { fontFamily: fontFam, fontSize: legSize, color: '#1a1a3a' } }
  ],
  graphic: [
    { type: 'line', z: 20, shape: { x1: 30, y1: 47, x2: 114, y2: 47 }, style: { stroke: '#0000ff', lineWidth: 3 } },
    { type: 'line', z: 20, shape: { x1: 30, y1: 971, x2: 63, y2: 971 }, style: { stroke: '#00ff00', lineWidth: 3 } },
    { type: 'line', z: 20, shape: { x1: 90, y1: 971, x2: 123, y2: 971 }, style: { stroke: '#ff0000', lineWidth: 3 } }
  ],
  series: [
    { type: 'custom', name: 'bgTop', xAxisIndex: 0, yAxisIndex: 0, z: 1, silent: true, renderItem: bgRender, data: periodData },
    { type: 'custom', name: 'bgBottom', xAxisIndex: 1, yAxisIndex: 1, z: 1, silent: true, renderItem: bgRender, data: periodData },
    { type: 'custom', name: 'yearsTop', xAxisIndex: 0, yAxisIndex: 0, z: 2, silent: true, renderItem: yearLineRender, data: yearData },
    { type: 'custom', name: 'yearsBottom', xAxisIndex: 1, yAxisIndex: 1, z: 2, silent: true, renderItem: yearLineRender, data: yearData },
    { type: 'custom', name: 'priceGrid', xAxisIndex: 0, yAxisIndex: 0, z: 2, silent: true, renderItem: priceLineRender,
      data: priceTicks.map(function (v) { return [xMin, v]; }) },
    { type: 'custom', name: 'strip', xAxisIndex: 1, yAxisIndex: 1, z: 2, silent: true, renderItem: stripRender, data: periodData },
    { type: 'line', name: 'Koersgraf.', xAxisIndex: 0, yAxisIndex: 0, z: 3, showSymbol: false, symbol: 'none',
      itemStyle: { color: '#0000ff' }, lineStyle: { color: '#0000ff', width: 3 }, data: toPoints(koers) },
    { type: 'line', name: 'Vgl.', xAxisIndex: 1, yAxisIndex: 1, z: 3, showSymbol: false, symbol: 'none',
      itemStyle: { color: '#00ff00' }, lineStyle: { color: '#00ff00', width: 2 }, data: toPoints(vglGroen) },
    { type: 'line', name: 'Vgl. ', xAxisIndex: 1, yAxisIndex: 1, z: 3, showSymbol: false, symbol: 'none',
      itemStyle: { color: '#ff0000' }, lineStyle: { color: '#ff0000', width: 2 }, data: toPoints(vglRood) },
    { type: 'custom', name: 'mark', xAxisIndex: 1, yAxisIndex: 1, z: 4, silent: true, renderItem: ellipseRender,
      data: [[toTs(ellipseMark[0]), ellipseMark[1]]] }
  ]
};

if (option && typeof option === 'object') {
  myChart.setOption(option, true);
}
</script>
</body>
</html>
